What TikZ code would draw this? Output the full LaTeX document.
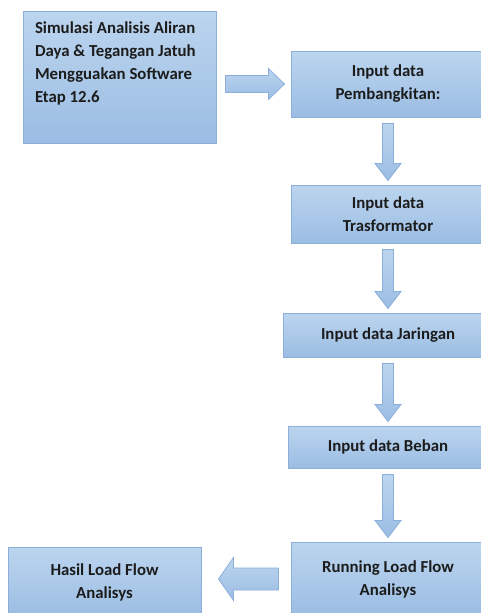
\documentclass[tikz,border=0pt]{standalone}
\usepackage{fontspec}
\setmainfont{Carlito}
\usepackage{tikz}
\usetikzlibrary{calc}

\definecolor{boxtop}{HTML}{BCD5EF}
\definecolor{boxbot}{HTML}{9BBDE3}
\definecolor{boxline}{HTML}{8CAFD9}
\definecolor{textdark}{HTML}{1C1C1C}

\tikzset{
  box/.style={draw=boxline, line width=1pt, top color=boxtop, bottom color=boxbot,
    inner sep=0pt, align=center, text=textdark,
    font=\fontsize{16.8}{23}\selectfont\bfseries},
  flowarrow/.style={draw=boxline, line width=0.8pt, top color=boxtop, bottom color=boxbot}
}

% block arrows between two named boxes
\newcommand\flowdown[2]{%
  \path[flowarrow] let \p1=(#1.south), \p2=(#2.north) in
    (\x1-5.5pt,\y1-6pt) -- (\x1+5.5pt,\y1-6pt) -- (\x1+5.5pt,\y2+21pt)
    -- (\x1+13pt,\y2+21pt) -- (\x1,\y2+4pt) -- (\x1-13pt,\y2+21pt)
    -- (\x1-5.5pt,\y2+21pt) -- cycle;}
\newcommand\flowright[2]{%
  \path[flowarrow] let \p1=(#1.east), \p2=(#2.west) in
    (\x1+9pt,\y2+8.5pt) -- (\x2-22pt,\y2+8.5pt) -- (\x2-22pt,\y2+15.5pt)
    -- (\x2-6pt,\y2) -- (\x2-22pt,\y2-15.5pt) -- (\x2-22pt,\y2-8.5pt)
    -- (\x1+9pt,\y2-8.5pt) -- cycle;}
\newcommand\flowleft[2]{%
  \path[flowarrow] let \p1=(#1.west), \p2=(#2.east) in
    (\x1-12pt,\y1+11pt) -- (\x2+32pt,\y1+11pt) -- (\x2+32pt,\y1+21.5pt)
    -- (\x2+17pt,\y1) -- (\x2+32pt,\y1-21.5pt) -- (\x2+32pt,\y1-11pt)
    -- (\x1-12pt,\y1-11pt) -- cycle;}

\begin{document}
\begin{tikzpicture}[x=1pt,y=1pt]
\useasboundingbox (0,0) rectangle (480,-613);

\node[box, minimum width=193pt, minimum height=132pt] (intro) at (119.5,-77)
  {\parbox[c][110pt][t]{169pt}{\raggedright Simulasi Analisis Aliran\\
   Daya \& Tegangan Jatuh\\ Mengguakan Software\\ Etap 12.6}};
\node[box, minimum width=194pt, minimum height=66pt] (pem) at (388,-84)
  {Input data\\ Pembangkitan:};
\node[box, minimum width=194pt, minimum height=58pt] (tra) at (388,-214)
  {Input data\\ Trasformator};
\node[box, minimum width=210pt, minimum height=44pt] (jar) at (388,-335)
  {Input data Jaringan};
\node[box, minimum width=200pt, minimum height=42pt] (beb) at (388,-447)
  {Input data Beban};
\node[box, minimum width=194pt, minimum height=74pt] (run) at (388,-579)
  {Running Load Flow\\ Analisys};
\node[box, minimum width=193pt, minimum height=70pt] (hasil) at (104.5,-582)
  {Hasil Load Flow\\ Analisys};

\flowright{intro}{pem}
\flowdown{pem}{tra}
\flowdown{tra}{jar}
\flowdown{jar}{beb}
\flowdown{beb}{run}
\flowleft{run}{hasil}
\end{tikzpicture}
\end{document}
